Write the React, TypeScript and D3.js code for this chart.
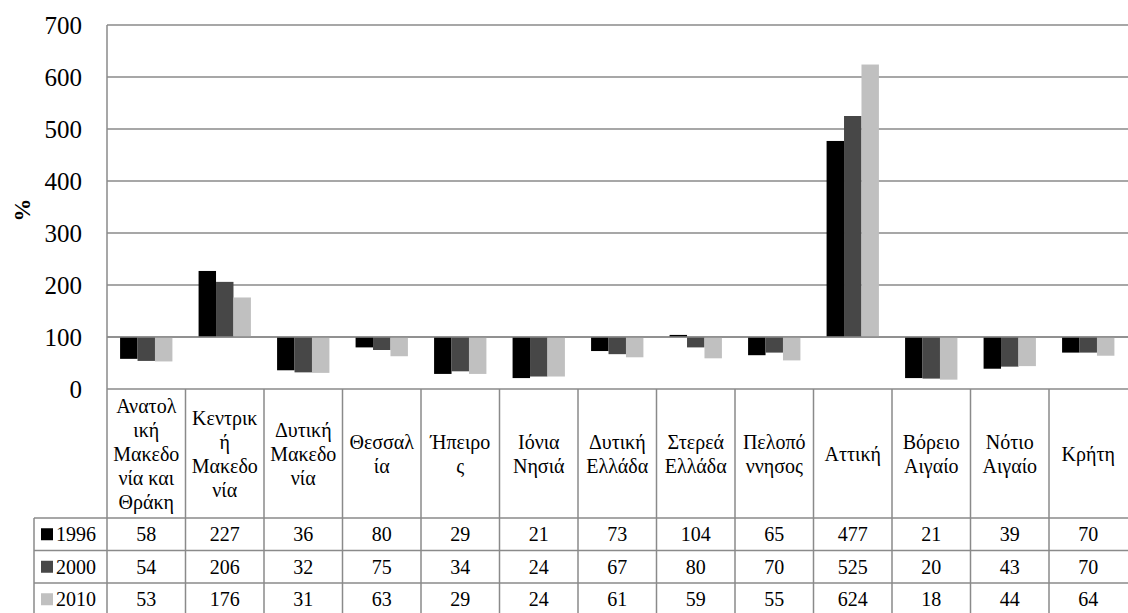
import React from "react";
import * as d3 from "d3";

const categories: string[] = [
  "Ανατολ\nική\nΜακεδο\nνία και\nΘράκη",
  "Κεντρικ\nή\nΜακεδο\nνία",
  "Δυτική\nΜακεδο\nνία",
  "Θεσσαλ\nία",
  "Ήπειρο\nς",
  "Ιόνια\nΝησιά",
  "Δυτική\nΕλλάδα",
  "Στερεά\nΕλλάδα",
  "Πελοπό\nννησος",
  "Αττική",
  "Βόρειο\nΑιγαίο",
  "Νότιο\nΑιγαίο",
  "Κρήτη",
];
const seriesNames: string[] = ["1996", "2000", "2010"];
const values1996: number[] = [58, 227, 36, 80, 29, 21, 73, 104, 65, 477, 21, 39, 70];
const values2000: number[] = [54, 206, 32, 75, 34, 24, 67, 80, 70, 525, 20, 43, 70];
const values2010: number[] = [53, 176, 31, 63, 29, 24, 61, 59, 55, 624, 18, 44, 64];
const yTicks: number[] = [0, 100, 200, 300, 400, 500, 600, 700];
const baseValue = 100;

const seriesValues = [values1996, values2000, values2010];
const colors = ["#000000", "#474747", "#c0c0c0"];
const FONT = '"Liberation Serif", Tinos, "Times New Roman", "DejaVu Serif", serif';
const GRID = "#8a8a8a";
const ts: React.CSSProperties = { fontFamily: FONT };

export default function App() {
  const W = 1128, H = 613;
  const left = 107, right = 1127.5, top = 25, bottom = 389;
  const headerBottom = 518;
  const rowH = 32.5;
  const legendLeft = 34;

  const y = d3.scaleLinear().domain([0, 700]).range([bottom, top]);
  const x = d3.scaleBand<string>().domain(categories).range([left, right]).padding(0);
  const bw = x.bandwidth();
  const groupW = bw / 1.5;
  const inner = d3.scaleBand<string>().domain(seriesNames).range([0, groupW]).padding(0);

  return (
    <svg width={W} height={H} style={{ position: "absolute", left: 0, top: 0, background: "#fff", fontFamily: FONT }}>
      {yTicks.map((t) => (
        <line key={"g" + t} x1={left} x2={W} y1={y(t)} y2={y(t)} stroke={GRID} strokeWidth={1.5} />
      ))}
      {yTicks.map((t) => (
        <text key={"t" + t} x={82} y={y(t)} dy="0.35em" textAnchor="end" fontSize={25} fill="#000" style={ts}>
          {t}
        </text>
      ))}
      <text transform={`translate(22,210) rotate(-90)`} dy="0.35em" textAnchor="middle" fontSize={23} fontWeight="bold" fill="#000" style={ts}>
        %
      </text>
      {categories.map((c, i) => {
        const gx = (x(c) as number) + (bw - groupW) / 2;
        return seriesNames.map((s, k) => {
          const v = seriesValues[k][i];
          const y0 = y(Math.max(v, baseValue));
          const y1 = y(Math.min(v, baseValue));
          return (
            <rect key={c + s} x={gx + (inner(s) as number)} y={y0} width={inner.bandwidth()} height={Math.max(0.5, y1 - y0)} fill={colors[k]} />
          );
        });
      })}
      <line x1={left} x2={W} y1={y(baseValue)} y2={y(baseValue)} stroke={GRID} strokeWidth={1.5} />
      <line x1={left} x2={left} y1={top} y2={H} stroke={GRID} strokeWidth={1.5} />
      {categories.map((c, i) => (
        i > 0 ? <line key={"v" + i} x1={x(c) as number} x2={x(c) as number} y1={bottom} y2={H} stroke={GRID} strokeWidth={1.5} /> : null
      ))}
      <line x1={legendLeft} x2={legendLeft} y1={headerBottom} y2={H} stroke={GRID} strokeWidth={1.5} />
      {[0, 1, 2].map((r) => (
        <line key={"h" + r} x1={legendLeft} x2={W} y1={headerBottom + r * rowH} y2={headerBottom + r * rowH} stroke={GRID} strokeWidth={1.5} />
      ))}
      {categories.map((c) => {
        const lines = c.split("\n");
        const cx = (x(c) as number) + bw / 2;
        const cy = 454;
        const lh = 24;
        return (
          <text key={"c" + c} x={cx} textAnchor="middle" fontSize={20} fill="#000" style={ts}>
            {lines.map((ln, j) => (
              <tspan key={j} x={cx} y={cy + (j - (lines.length - 1) / 2) * lh} dy="0.35em">
                {ln}
              </tspan>
            ))}
          </text>
        );
      })}
      {seriesNames.map((s, k) => {
        const ry = headerBottom + k * rowH + rowH / 2;
        return (
          <g key={"r" + s}>
            <rect x={41} y={ry - 6} width={12} height={12} fill={colors[k]} />
            <text x={56} y={ry} dy="0.35em" fontSize={20} fill="#000" style={ts}>{s}</text>
            {categories.map((c, i) => (
              <text key={c} x={(x(c) as number) + bw / 2} y={ry} dy="0.35em" textAnchor="middle" fontSize={20} fill="#000" style={ts}>
                {seriesValues[k][i]}
              </text>
            ))}
          </g>
        );
      })}
    </svg>
  );
}
